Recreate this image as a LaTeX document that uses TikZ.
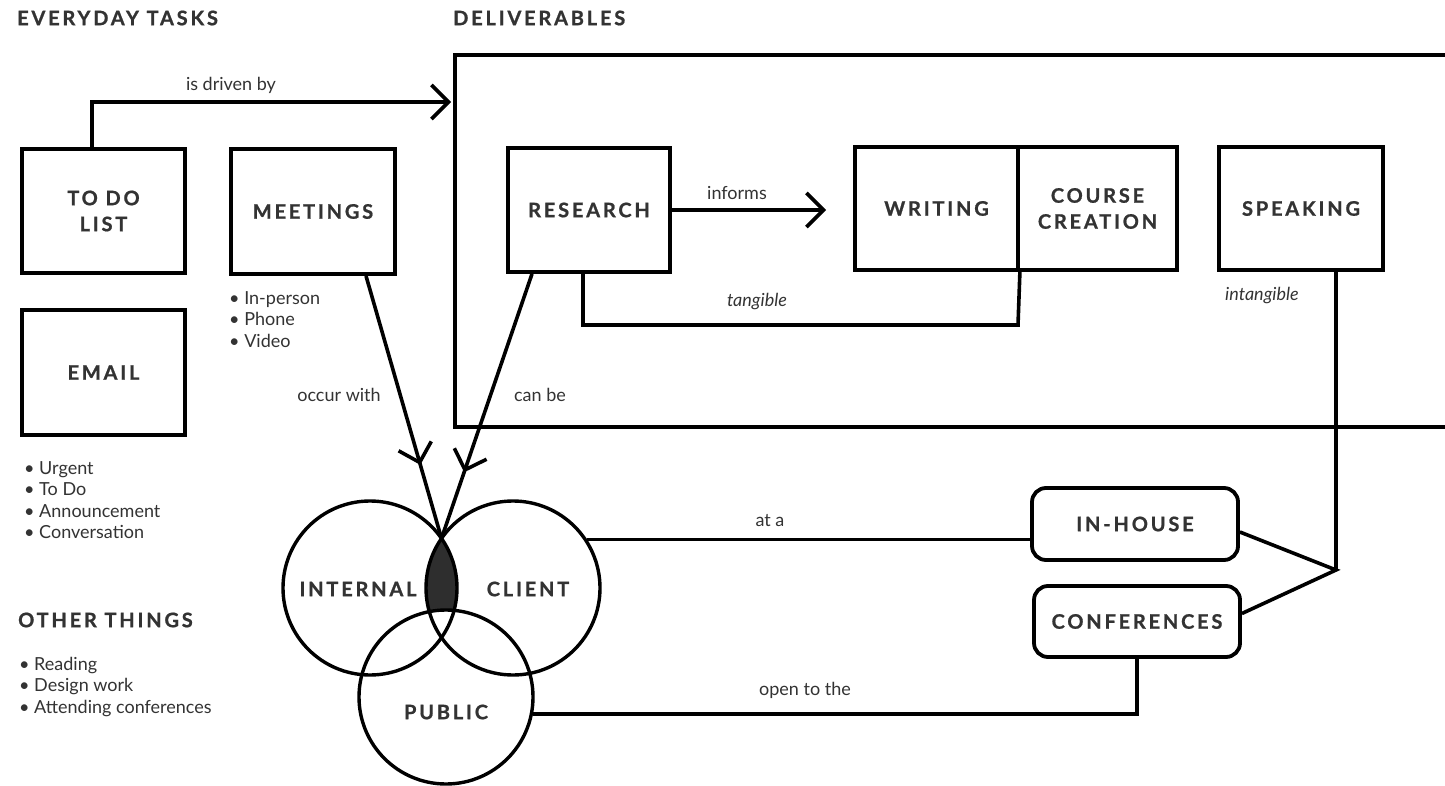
\documentclass[tikz,border=0pt]{standalone}
\usepackage{fontspec}
\setmainfont{Lato}
\newfontfamily\capsfont[LetterSpace=14,FakeBold=0.9]{Lato}
\usetikzlibrary{arrows.meta,decorations.markings,calc}
\definecolor{txt}{HTML}{333333}
\definecolor{lensfill}{HTML}{2E2E2E}
\begin{document}
\begin{tikzpicture}[x=1pt,y=-1pt,line join=miter,
  chev/.tip={Straight Barb[length=17pt,width=34pt,line width=3.6pt]},
  box/.style={draw=black,line width=3.8pt,inner sep=0pt,align=center,
    font=\capsfont\bfseries\fontsize{20}{26}\selectfont,text=txt},
  rbox/.style={box,rounded corners=14pt},
  venn/.style={circle,draw=black,line width=3.4pt,minimum size=174pt,inner sep=0pt},
  vlabel/.style={inner sep=0pt,font=\capsfont\bfseries\fontsize{20}{26}\selectfont,text=txt},
  conn/.style={draw=black,line width=3.6pt},
  lbl/.style={inner sep=0pt,font=\fontsize{18}{22}\selectfont,text=txt},
  ilbl/.style={lbl,font=\itshape\fontsize{18}{22}\selectfont},
  head/.style={anchor=west,inner sep=0pt,font=\capsfont\bfseries\fontsize{20}{24}\selectfont,text=txt},
  list/.style={align=left,anchor=north west,inner sep=0pt,font=\fontsize{18}{21.5}\selectfont,text=txt},
  frame/.style={draw=black,line width=4pt}
]
\fill[white] (0,0) rectangle (1445,786);
\useasboundingbox (0,0) rectangle (1445,786);

% headings
\node[head] (h1) at (17,18) {EVERYDAY TASKS};
\node[head] (h2) at (453,18) {DELIVERABLES};
\node[head] (h3) at (18,620) {OTHER THINGS};

% everyday tasks
\node[box,minimum width=163pt,minimum height=124pt] (todo) at (103.5,211) {TO DO\\LIST};
\node[box,minimum width=164pt,minimum height=125pt] (meetings) at (313,211.5) {MEETINGS};
\node[box,minimum width=163pt,minimum height=125pt] (email) at (103.5,372.5) {EMAIL};

\node[list] (mlist) at (229,291) {• In-person\\• Phone\\• Video};
\node[list] (elist) at (24,461) {• Urgent\\• To Do\\• Announcement\\• Conversation};
\node[list] (olist) at (19,657) {• Reading\\• Design work\\• Attending conferences};

% deliverables frame
\draw[frame] (1460,55) -- (455,55) -- (455,427) -- (1460,427);
\coordinate (dtarget) at (451,102);

\node[box,minimum width=162pt,minimum height=124pt] (research) at (589,210) {RESEARCH};
\node[box,minimum width=163pt,minimum height=123pt] (writing) at (936.5,208.5) {WRITING};
\node[box,minimum width=159pt,minimum height=123pt] (course) at (1097.5,208.5) {COURSE\\CREATION};
\node[box,minimum width=164pt,minimum height=123pt] (speaking) at (1301,208.5) {SPEAKING};

\node[rbox,minimum width=206pt,minimum height=72pt] (inhouse) at (1135,524) {IN-HOUSE};
\node[rbox,minimum width=206pt,minimum height=71pt] (conf) at (1137,621.5) {CONFERENCES};

% venn
\coordinate (ci) at (370,588);
\coordinate (cc) at (513,588);
\coordinate (cp) at (446,697);
\begin{scope}
  \clip (ci) circle[radius=87pt];
  \fill[lensfill] (cc) circle[radius=87pt];
  \fill[white] (cp) circle[radius=87pt];
\end{scope}
\node[venn] (internal) at (ci) {};
\node[venn] (client) at (cc) {};
\node[venn] (public) at (cp) {};
\node[vlabel] (tint) at (358,589) {INTERNAL};
\node[vlabel] (tcli) at (528,589) {CLIENT};
\node[vlabel] (tpub) at (446,712) {PUBLIC};
\coordinate (lens) at (441.5,538.4);

% connectors
\draw[conn,-chev] ([xshift=-11.5pt]todo.north) |- (dtarget);
\node[lbl] (ldriven) at (231,85) {is driven by};

\coordinate (inf) at (826,210);
\draw[conn,-chev] (research.east) -- (inf);
\node[lbl] (linforms) at (737,193) {informs};

\coordinate (tg) at (1018,325);
\draw[conn] ([xshift=-6pt]research.south) |- (tg) -- (writing.south east);
\node[ilbl] (ltang) at (757,302) {tangible};

\coordinate (jn) at (1336,570);
\draw[conn] ([xshift=35pt]speaking.south) -- (jn);
\draw[conn] ([yshift=-8pt]inhouse.east) -- (jn) -- ([yshift=8pt]conf.east);
\node[ilbl] (lintang) at (1262,296) {intangible};

\draw[conn,postaction=decorate,decoration={markings,mark=at position 0.72 with {\arrow{chev}}}]
  ([xshift=53pt]meetings.south) -- (lens);
\node[lbl] (loccur) at (339,395) {occur with};
\draw[conn,postaction=decorate,decoration={markings,mark=at position 0.75 with {\arrow{chev}}}]
  ([xshift=-57pt]research.south) -- (lens);
\node[lbl] (lcan) at (540,395) {can be};

\draw[conn] (client.33) -- (client.33 -| inhouse.west);
\node[lbl] (lat) at (770,521) {at a};
\draw[conn] (public.-11) -| (conf.south);
\node[lbl] (lopen) at (805,690) {open to the};
\end{tikzpicture}
\end{document}
